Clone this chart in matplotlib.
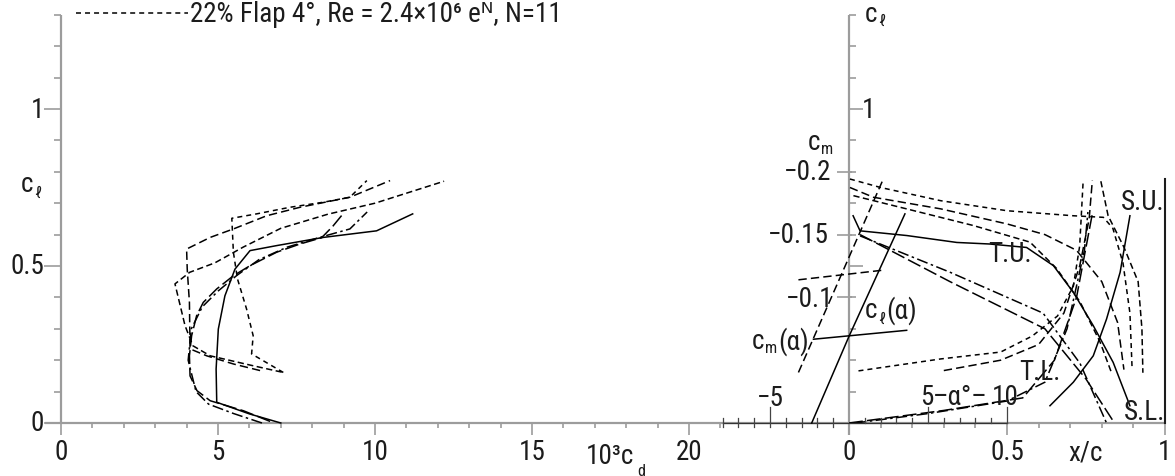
import matplotlib
matplotlib.use("Agg")
import matplotlib.pyplot as plt
from matplotlib import font_manager as fm

# ---------------- data ----------------
# drag polars, 10^3 c_d against c_l
cd_solid = [7.0, 6.0, 4.96, 4.94, 5.01, 5.22, 5.54, 6.02, 6.87, 8.35, 10.05, 11.2]
cl_solid = [0.0, 0.029, 0.066, 0.172, 0.299, 0.405, 0.490, 0.549, 0.565, 0.591, 0.612, 0.666]

cd_n11 = [7.08, 6.07, 6.12, 5.91, 5.62, 5.49, 5.44, 6.23, 7.29, 8.35, 9.2, 9.74]
cl_n11 = [0.161, 0.220, 0.278, 0.363, 0.459, 0.544, 0.652, 0.666, 0.687, 0.703, 0.719, 0.772]

cd_mid = [6.34, 5.49, 4.64, 4.11, 4.09, 4.02, 4.0, 4.75, 5.49, 6.55, 7.61, 9.2, 10.48]
cl_mid = [0.167, 0.188, 0.214, 0.236, 0.384, 0.49, 0.554, 0.591, 0.618, 0.66, 0.687, 0.719, 0.772]

cd_outer = [7.03, 6.0, 4.75, 4.2, 3.95, 3.63, 4.1, 4.9, 5.8, 7.0, 8.5, 10.0, 12.2]
cl_outer = [0.162, 0.185, 0.214, 0.246, 0.31, 0.443, 0.48, 0.51, 0.56, 0.62, 0.665, 0.70, 0.77]

cd_long = [6.66, 5.81, 4.75, 4.33, 4.11, 4.09, 4.16, 4.32, 4.53, 4.96, 5.49, 6.02, 6.87, 7.61, 8.3, 8.66, 8.98]
cl_long = [0.005, 0.039, 0.071, 0.103, 0.15, 0.214, 0.278, 0.342, 0.384, 0.427, 0.469, 0.501, 0.544, 0.57, 0.59, 0.627, 0.666]

cd_dd = [6.4, 5.5, 4.7, 4.3, 4.05, 4.15, 4.5, 5.0, 5.6, 6.3, 7.2, 8.2, 9.2, 9.75]
cl_dd = [0.0, 0.03, 0.06, 0.1, 0.2, 0.3, 0.37, 0.42, 0.47, 0.52, 0.56, 0.59, 0.618, 0.672]

# lift and moment against angle of attack (deg)
alpha_cl_solid = [-2.36, 0.0, 3.54]
cl_alpha_solid = [0.0, 0.276, 0.666]
alpha_cl_n11 = [-3.2, 0.0, 2.17]
cl_alpha_n11 = [0.161, 0.528, 0.777]
alpha_cm_solid = [-2.25, 3.65]
cm_alpha_solid = [-0.0667, -0.0738]
alpha_cm_n11 = [-3.2, 2.17]
cm_alpha_n11 = [-0.114, -0.1217]

# transition / separation positions, x/c against c_l
xc_tu_solid = [0.013, 0.035, 0.183, 0.341, 0.446, 0.562, 0.647, 0.71, 0.773, 0.836, 0.889]
cl_tu_solid = [0.66, 0.612, 0.597, 0.575, 0.57, 0.559, 0.501, 0.416, 0.31, 0.193, 0.055]
xc_su_solid = [0.636, 0.71, 0.773, 0.815, 0.858, 0.889]
cl_su_solid = [0.055, 0.13, 0.214, 0.331, 0.48, 0.66]

xc_tu_n11 = [0.003, 0.10, 0.29, 0.50, 0.71, 0.805, 0.835, 0.867, 0.889, 0.896]
cl_tu_n11 = [0.777, 0.75, 0.708, 0.676, 0.66, 0.655, 0.62, 0.51, 0.35, 0.17]
xc_tl_n11 = [0.03, 0.29, 0.48, 0.58, 0.66, 0.71, 0.73, 0.741]
cl_tl_n11 = [0.166, 0.204, 0.226, 0.277, 0.341, 0.436, 0.564, 0.771]

xc_tu_mid = [0.003, 0.077, 0.29, 0.50, 0.62, 0.72, 0.80, 0.85, 0.87]
cl_tu_mid = [0.75, 0.719, 0.682, 0.634, 0.60, 0.55, 0.45, 0.32, 0.17]
xc_tl_mid = [0.30, 0.48, 0.60, 0.68, 0.73, 0.76, 0.77]
cl_tl_mid = [0.167, 0.20, 0.25, 0.35, 0.50, 0.65, 0.772]

xc_tu_outer = [0.014, 0.182, 0.393, 0.573, 0.657, 0.731, 0.794, 0.83]
cl_tu_outer = [0.724, 0.682, 0.629, 0.576, 0.492, 0.386, 0.259, 0.162]
xc_sep_outer = [0.797, 0.82, 0.87, 0.915, 0.927, 0.93]
cl_sep_outer = [0.77, 0.66, 0.56, 0.45, 0.30, 0.16]

xc_tu_long = [0.035, 0.32, 0.62, 0.75, 0.84]
cl_tu_long = [0.60, 0.45, 0.30, 0.14, 0.0]
xc_tl_long = [0.0, 0.3, 0.55, 0.65, 0.72, 0.77]
cl_tl_long = [0.0, 0.04, 0.08, 0.20, 0.40, 0.666]

xc_tu_dd = [0.035, 0.32, 0.614, 0.731, 0.815]
cl_tu_dd = [0.596, 0.48, 0.35, 0.19, 0.0]
xc_tl_dd = [0.02, 0.25, 0.50, 0.62, 0.69, 0.745, 0.756]
cl_tl_dd = [0.0, 0.03, 0.07, 0.13, 0.30, 0.55, 0.672]

cd_ticks = list(range(0, 22))
cd_labels = [0, 5, 10, 15, 20]
cl_ticks = [k / 10 for k in range(0, 14)]
xc_ticks = [k / 10 for k in range(0, 11)]
alpha_ticks = list(range(-8, 11))
cm_labels = [-0.2, -0.15, -0.1]

# ---------------- fonts ----------------
MAIN, FS = "DejaVu Sans", 15
for name, size in [("Roboto Condensed", 19.5), ("Open Sans Condensed", 19),
                   ("Liberation Sans Narrow", 19)]:
    try:
        fm.findfont(fm.FontProperties(family=name), fallback_to_default=False)
        MAIN, FS = name, size
        break
    except Exception:
        pass
plt.rcParams["font.family"] = [MAIN, "DejaVu Sans"]
plt.rcParams["lines.scale_dashes"] = False

W, H = 1175, 477
fig = plt.figure(figsize=(W / 100, H / 100), dpi=100)


def overlay(x0, sx, y0, sy, down=False):
    ax = fig.add_axes([0, 0, 1, 1])
    ax.set_xlim(-x0 / sx, (W - x0) / sx)
    lo, hi = -(H - y0) / sy, y0 / sy
    ax.set_ylim((-lo, -hi) if down else (lo, hi))
    ax.axis("off")
    ax.patch.set_alpha(0)
    return ax


ax_p = overlay(61, 31.4, 424, 314)          # 10^3 cd , cl
ax_t = overlay(849, 316, 424, 314)          # x/c , cl
ax_a = overlay(849, 15.8, 424, 314)         # alpha , cl
ax_m = overlay(849, 15.8, 424, 1256, True)  # alpha , cm

GRAY = "#9c9c9c"
INK = "#1c1c1c"
AX = dict(color=GRAY, lw=1.6, solid_capstyle="butt")
TK = dict(color=GRAY, lw=1.2, solid_capstyle="butt")

# left panel frame
ax_p.plot([0, 0], [0, 1.3], **AX)
ax_p.plot([-16 / 31.4, 1104 / 31.4], [0, 0], **AX)
for c in cl_ticks:
    L = (17 if round(c * 10) % 5 == 0 else 7) / 31.4
    ax_p.plot([-L, 0], [c, c], **TK)
for k in cd_ticks:
    L = (12 if k % 5 == 0 else 5) / 314
    ax_p.plot([k, k], [0, -L], **TK)

# right panel frame
ax_t.plot([0, 0], [-12 / 314, 1.3], **AX)
for c in cl_ticks[1:]:
    major = round(c * 10) % 5 == 0
    ax_t.plot([0, (14 if major else 7) / 316], [c, c], **TK)
for x in xc_ticks:
    L = (12 if round(x * 10) % 5 == 0 else 5) / 314
    ax_t.plot([x, x], [0, -L], **TK)
ax_t.plot([1, 1], [0, 0.777], color=INK, lw=1.5)

# alpha axis
ax_a.plot([alpha_ticks[0], alpha_ticks[-1]], [0, 0], color="#333333", lw=0.9)
for a in alpha_ticks:
    if a == 0:
        continue
    up = (16 if a % 5 == 0 else 5) / 314
    dn = (4 if a < 0 else 0) / 314
    ax_a.plot([a, a], [-dn, up], color="#444444", lw=0.9)
for m in cm_labels:
    ax_m.plot([-12 / 15.8, 3 / 15.8], [m, m], **TK)

# line styles
SOLID = dict(color="black", lw=1.1)
SHORT = dict(color="black", lw=1.1, dashes=(3.6, 2.9))
MID = dict(color="black", lw=1.1, dashes=(6.0, 3.0))
OUTER = dict(color="black", lw=1.1, dashes=(4.5, 2.5))
LONG = dict(color="black", lw=1.1, dashes=(10.0, 3.0))
DASHDOT = dict(color="black", lw=1.1, dashes=(8.0, 2.5, 1.8, 2.5))

# drag polars
ax_p.plot(cd_solid, cl_solid, **SOLID)
ax_p.plot(cd_n11, cl_n11, **SHORT)
ax_p.plot(cd_mid, cl_mid, **MID)
ax_p.plot(cd_outer, cl_outer, **OUTER)
ax_p.plot(cd_long, cl_long, **LONG)
ax_p.plot(cd_dd, cl_dd, **DASHDOT)

# cl(alpha), cm(alpha)
ax_a.plot(alpha_cl_solid, cl_alpha_solid, **SOLID)
ax_a.plot(alpha_cl_n11, cl_alpha_n11, **MID)
ax_m.plot(alpha_cm_solid, cm_alpha_solid, **SOLID)
ax_m.plot(alpha_cm_n11, cm_alpha_n11, **MID)

# transition and separation
ax_t.plot(xc_tu_solid, cl_tu_solid, **SOLID)
ax_t.plot(xc_su_solid, cl_su_solid, **SOLID)
ax_t.plot(xc_tu_n11, cl_tu_n11, **SHORT)
ax_t.plot(xc_tl_n11, cl_tl_n11, **SHORT)
ax_t.plot(xc_tu_mid, cl_tu_mid, **MID)
ax_t.plot(xc_tl_mid, cl_tl_mid, **MID)
ax_t.plot(xc_tu_outer, cl_tu_outer, **OUTER)
ax_t.plot(xc_sep_outer, cl_sep_outer, **OUTER)
ax_t.plot(xc_tu_long, cl_tu_long, **LONG)
ax_t.plot(xc_tl_long, cl_tl_long, **LONG)
ax_t.plot(xc_tu_dd, cl_tu_dd, **DASHDOT)
ax_t.plot(xc_tl_dd, cl_tl_dd, **DASHDOT)


# ---------------- text ----------------
def T(px, py, s, ha="center", va="center", size=None):
    fig.text(px / W, 1 - py / H, s, ha=ha, va=va, fontsize=size or FS, color=INK)


SUB = FS * 0.6

# legend line and title
fig.add_artist(plt.Line2D([76 / W, 188 / W], [1 - 14 / H, 1 - 14 / H], **SHORT))
T(190, 15, "22% Flap 4°, Re = 2.4×10⁶ eᴺ, N=11", ha="left")

# left axis labels
T(44, 424, "0", ha="right")
T(44, 267, "0.5", ha="right")
T(44, 110, "1", ha="right")
T(33, 185, "c", ha="right")
T(34, 193, "ℓ", ha="left", size=SUB)
for k in cd_labels:
    T(61 + 31.4 * k, 453, str(k))
T(586, 464, "10³c", ha="left", va="baseline")
T(637, 476, "d", ha="left", va="baseline", size=SUB)

# right axis labels
T(849, 453, "0")
T(1007, 453, "0.5")
T(1165, 453, "1")
T(1086, 453, "x/c")
T(862, 110, "1", ha="left")
T(877, 14, "c", ha="right")
T(878, 21, "ℓ", ha="left", size=SUB)
T(820, 143, "c", ha="right")
T(821, 150, "m", ha="left", size=SUB)
T(831, 173, "−0.2", ha="right")
T(829, 236, "−0.15", ha="right")
T(833, 300, "−0.1", ha="right")
T(770, 399, "−5")
T(927, 405, "5", va="baseline")
T(960, 405, "–α°–", va="baseline")
T(1005, 405, "10", va="baseline")
T(877, 311, "c", ha="right")
T(878, 319, "ℓ", ha="left", size=SUB)
T(886, 311, "(α)", ha="left")
T(764, 342, "c", ha="right")
T(765, 349, "m", ha="left", size=SUB)
T(778, 342, "(α)", ha="left")
T(1010, 255, "T.U.")
T(1040, 373, "T.L.")
T(1143, 203, "S.U.")
T(1145, 413, "S.L.")

fig.savefig("out.png", dpi=100)
